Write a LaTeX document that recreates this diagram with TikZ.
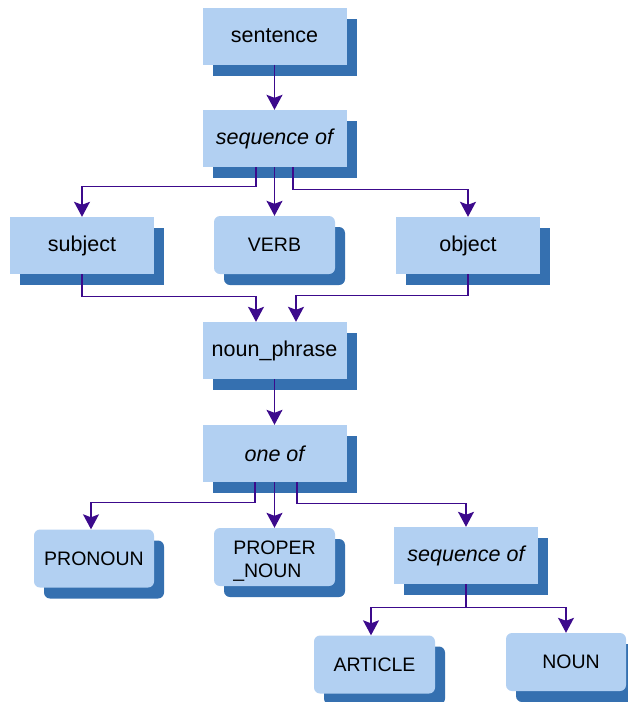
\documentclass[tikz,border=0pt]{standalone}
\usepackage{fontspec}
\setmainfont{Liberation Sans}
\usetikzlibrary{arrows.meta,shadows}
\definecolor{boxfill}{HTML}{B2D0F2}
\definecolor{boxshadow}{HTML}{3570B0}
\definecolor{linkc}{HTML}{3C0A8C}
\begin{document}
\begin{tikzpicture}[x=1pt,y=1pt,
  box/.style={fill=boxfill, inner sep=0pt, minimum width=144pt, minimum height=57pt,
    font=\fontsize{21.5}{23}\selectfont, text=black,
    general shadow={shadow xshift=10pt, shadow yshift=-11pt, fill=boxshadow, opacity=1}},
  rbox/.style={box, rounded corners=6pt, minimum width=121pt, minimum height=58pt,
    font=\fontsize{19.5}{23}\selectfont},
  link/.style={draw=linkc, line width=1.3pt, -{Stealth[length=15pt,width=16pt,inset=3pt]}},
  plain/.style={draw=linkc, line width=1.3pt}]
\useasboundingbox (0,0) rectangle (628,-702);
\node[box] (sentence) at (274.5,-36) {sentence};
\node[box] (seqA) at (274.5,-138.5) {\itshape sequence of};
\node[box] (subject) at (82,-245.5) {subject};
\node[rbox] (verb) at (274.5,-245) {VERB};
\node[box] (object) at (468,-245.5) {object};
\node[box] (np) at (274.5,-350.5) {noun\_phrase};
\node[box] (oneof) at (274.5,-453.5) {\itshape one of};
\node[rbox, minimum width=120pt] (pronoun) at (94,-558.5) {PRONOUN};
\node[rbox, align=left] (proper) at (274.5,-557) {\rule{0pt}{22pt}PROPER\\\_NOUN};
\node[box] (seqB) at (466,-555.5) {\itshape sequence of};
\node[rbox] (article) at (374.5,-664.5) {ARTICLE};
\node[rbox, minimum width=120pt] (noun) at (566,-662) {\hspace{10pt}NOUN};
% connectors
\draw[link] (sentence.south) -- (seqA.north);
\draw[link] ([xshift=-18.5pt]seqA.south) -- ++(0,-19) -| (subject.north);
\draw[link] (seqA.south) -- (verb.north);
\draw[link] ([xshift=18.5pt]seqA.south) -- ++(0,-22) -| (object.north);
\draw[link] (subject.south) -- ++(0,-22) -| ([xshift=-18.5pt]np.north);
\draw[link] (object.south) -- ++(0,-21) -| ([xshift=21.5pt]np.north);
\draw[link] (np.south) -- (oneof.north);
\draw[link] ([xshift=-19.5pt]oneof.south) -- ++(0,-20) -| ([xshift=-3pt]pronoun.north);
\draw[link] (oneof.south) -- (proper.north);
\draw[link] ([xshift=22.5pt]oneof.south) -- ++(0,-21) -| (seqB.north);
\coordinate (split) at ([yshift=-23pt]seqB.south);
\draw[plain] (seqB.south) -- (split);
\draw[link] (split) -| ([xshift=-3.5pt]article.north);
\draw[link] (split) -| (noun.north);
\end{tikzpicture}
\end{document}
